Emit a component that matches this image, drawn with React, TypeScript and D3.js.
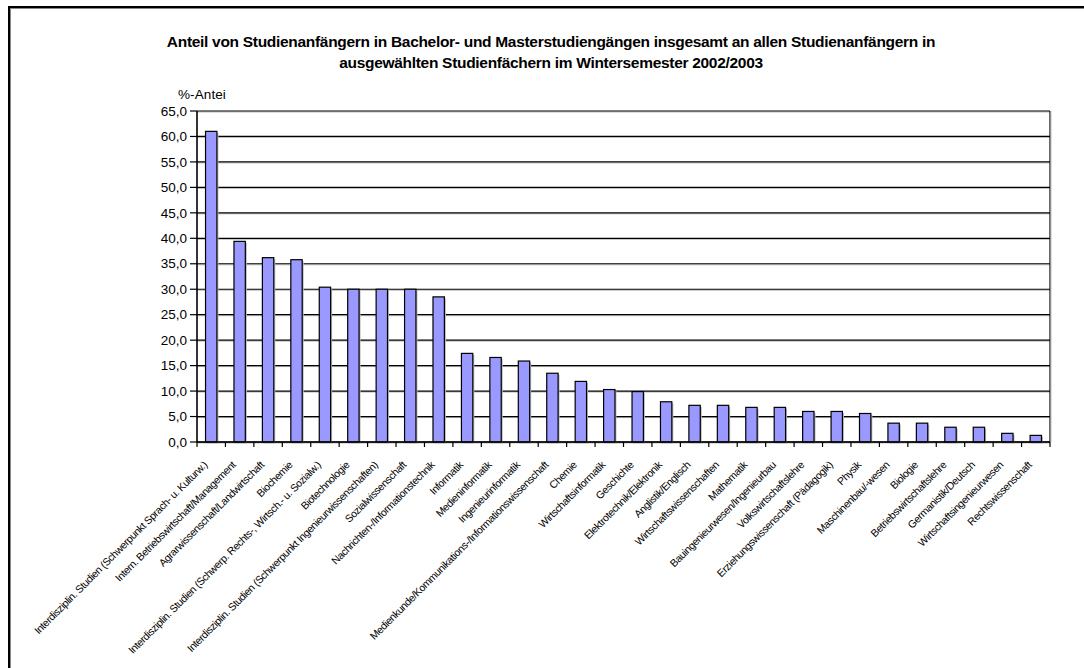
import React, { useEffect } from "react";
import * as d3 from "d3";

const categories = [
  "Interdisziplin. Studien (Schwerpunkt Sprach- u. Kulturw.)",
  "Intern. Betriebswirtschaft/Management",
  "Agrarwissenschaft/Landwirtschaft",
  "Biochemie",
  "Interdisziplin. Studien (Schwerp. Rechts-, Wirtsch.- u. Sozialw.)",
  "Biotechnologie",
  "Interdisziplin. Studien (Schwerpunkt Ingenieurwissenschaften)",
  "Sozialwissenschaft",
  "Nachrichten-/Informationstechnik",
  "Informatik",
  "Medieninformatik",
  "Ingenieurinformatik",
  "Medienkunde/Kommunikations-/Informationswissenschaft",
  "Chemie",
  "Wirtschaftsinformatik",
  "Geschichte",
  "Elektrotechnik/Elektronik",
  "Anglistik/Englisch",
  "Wirtschaftswissenschaften",
  "Mathematik",
  "Bauingenieurwesen/Ingenieurbau",
  "Volkswirtschaftslehre",
  "Erziehungswissenschaft (Pädagogik)",
  "Physik",
  "Maschinenbau/-wesen",
  "Biologie",
  "Betriebswirtschaftslehre",
  "Germanistik/Deutsch",
  "Wirtschaftsingenieurwesen",
  "Rechtswissenschaft",
];

const shares = [
  61.0, 39.4, 36.2, 35.8, 30.4, 30.0, 30.0, 30.0, 28.5, 17.4, 16.6, 15.9, 13.5,
  11.9, 10.3, 9.9, 7.9, 7.2, 7.2, 6.8, 6.8, 6.0, 6.0, 5.6, 3.7, 3.7, 2.9, 2.9,
  1.7, 1.3,
];

const yTicks = d3.range(0, 65.1, 5);

const titleLines = [
  "Anteil von Studienanfängern in Bachelor- und Masterstudiengängen insgesamt an allen Studienanfängern in",
  "ausgewählten Studienfächern im Wintersemester 2002/2003",
];
const yLabel = "%-Antei";

const W = 1084;
const H = 668;
const margin = { top: 111, right: 34, bottom: 226, left: 197 };
const font = "'Liberation Sans', Arial, sans-serif";

export default function App() {
  useEffect(() => {
    document.body.style.margin = "0";
  }, []);

  const x = d3
    .scaleBand<string>()
    .domain(categories)
    .range([margin.left, W - margin.right]);
  const y = d3
    .scaleLinear()
    .domain([0, 65])
    .range([H - margin.bottom, margin.top]);

  const x0 = margin.left;
  const x1 = W - margin.right;
  const yBase = y(0);
  const barW = x.bandwidth() / 2.5;
  const fmt = (v: number) => v.toFixed(1).replace(".", ",");
  const cx = (c: string) => (x(c) as number) + x.bandwidth() / 2;

  return (
    <svg width={W} height={H} style={{ display: "block", background: "#fff" }}>
      {/* outer frame */}
      <rect x={10.5} y={8.5} width={1200} height={800} fill="none" stroke="#888" strokeWidth={1} />
      <rect x={9} y={7} width={1200} height={800} fill="none" stroke="#000" strokeWidth={2} />

      {titleLines.map((t, i) => (
        <text
          key={i}
          x={551}
          y={47 + i * 21}
          textAnchor="middle"
          fontFamily={font}
          fontWeight="bold"
          fontSize={15.5}
          letterSpacing={-0.3}
        >
          {t}
        </text>
      ))}

      <text x={178} y={99} fontFamily={font} fontSize={13.5} letterSpacing={0.1}>
        {yLabel}
      </text>

      {/* gridlines */}
      {yTicks.map((t) => (
        <g key={t}>
          <line x1={x0} x2={x1} y1={y(t) + 1} y2={y(t) + 1} stroke="#bbb" strokeWidth={1} />
          <line x1={x0} x2={x1} y1={y(t)} y2={y(t)} stroke="#000" strokeWidth={1.2} />
        </g>
      ))}
      {/* right border */}
      <line x1={x1} x2={x1} y1={y(65)} y2={yBase} stroke="#000" strokeWidth={1.2} />
      <line x1={x1 + 1} x2={x1 + 1} y1={y(65)} y2={yBase} stroke="#bbb" strokeWidth={1} />

      {/* bars */}
      {categories.map((c, i) => {
        const bx = cx(c) - barW / 2;
        return (
          <g key={c}>
            <rect x={bx + 1.5} y={y(shares[i]) + 1.5} width={barW} height={yBase - y(shares[i])} fill="#bbb" />
            <rect
              x={bx}
              y={y(shares[i])}
              width={barW}
              height={yBase - y(shares[i])}
              fill="#9999FF"
              stroke="#000"
              strokeWidth={1.2}
            />
          </g>
        );
      })}

      {/* y axis */}
      <line x1={x0} x2={x0} y1={y(65)} y2={yBase} stroke="#000" strokeWidth={1.6} />
      {yTicks.map((t) => (
        <g key={"yt" + t}>
          <line x1={x0 - 7} x2={x0} y1={y(t)} y2={y(t)} stroke="#000" strokeWidth={1.2} />
          <text
            x={x0 - 10}
            y={y(t)}
            dy="0.35em"
            textAnchor="end"
            fontFamily={font}
            fontSize={13.5}
          >
            {fmt(t)}
          </text>
        </g>
      ))}

      {/* x axis */}
      <line x1={x0} x2={x1} y1={yBase} y2={yBase} stroke="#000" strokeWidth={1.6} />
      {categories.concat([""]).map((c, i) => {
        const b = c ? (x(c) as number) : x1;
        return <line key={"xt" + i} x1={b} x2={b} y1={yBase} y2={yBase + 5} stroke="#000" strokeWidth={1.2} />;
      })}
      {categories.map((c) => (
        <text
          key={"xl" + c}
          transform={`translate(${cx(c) - 6},${yBase + 21}) rotate(-45)`}
          textAnchor="end"
          dy="0.35em"
          fontFamily={font}
          fontSize={10.5}
          letterSpacing={-0.4}
        >
          {c}
        </text>
      ))}
    </svg>
  );
}
